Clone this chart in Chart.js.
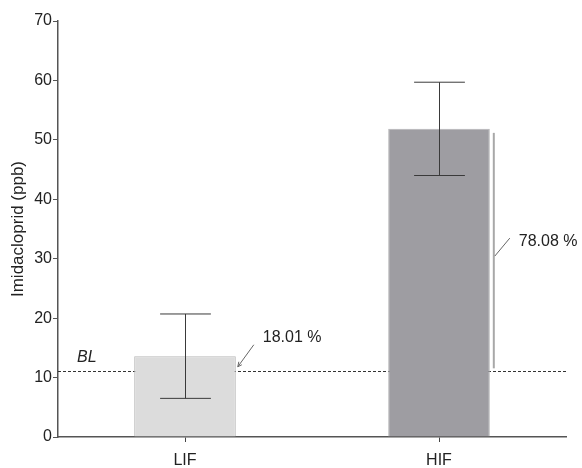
<!DOCTYPE html>
<html>
<head>
<meta charset="utf-8">
<script src="https://cdn.jsdelivr.net/npm/chart.js@4.4.0/dist/chart.umd.min.js"></script>
<style>
    body { margin: 0; background: #fff; }
    #wrap { width: 582px; height: 468px; }
</style>
</head>
<body>
<div id="wrap"><canvas id="c" width="582" height="468"></canvas></div>
<script>
// 数据
const groups = ['LIF', 'HIF'];
const means = [13.6, 51.85];
const errors = [7.1, 7.85];
const percentLabels = ['18.01 %', '78.08 %'];
const baseline = 11.05;
const yTicks = [0, 10, 20, 30, 40, 50, 60, 70];

const FONT = "'Liberation Sans', Arial, sans-serif";

// 误差线、基线和百分比标注
const extras = {
    id: 'extras',
    beforeDatasetsDraw(chart) {
        const { ctx, chartArea, scales: { y } } = chart;
        const yb = y.getPixelForValue(baseline);
        ctx.save();
        ctx.strokeStyle = '#333';
        ctx.lineWidth = 1;
        ctx.setLineDash([3, 2]);
        ctx.beginPath();
        ctx.moveTo(chartArea.left, Math.round(yb) + 0.5);
        ctx.lineTo(chartArea.right, Math.round(yb) + 0.5);
        ctx.stroke();
        ctx.setLineDash([]);
        ctx.fillStyle = '#222';
        ctx.font = "italic 16px " + FONT;
        ctx.textBaseline = 'middle';
        ctx.fillText('BL', chartArea.left + 19, yb - 14);
        ctx.restore();
    },
    afterDatasetsDraw(chart) {
        const { ctx, scales: { y } } = chart;
        const bars = chart.getDatasetMeta(0).data;
        const yb = y.getPixelForValue(baseline);
        ctx.save();
        // 误差线
        ctx.strokeStyle = '#3a3a3a';
        ctx.lineWidth = 1;
        bars.forEach((bar, i) => {
            const x = Math.round(bar.x) + 0.5;
            const yHi = y.getPixelForValue(means[i] + errors[i]);
            const yLo = y.getPixelForValue(means[i] - errors[i]);
            const cap = bar.width / 4;
            ctx.beginPath();
            ctx.moveTo(x, yHi); ctx.lineTo(x, yLo);
            ctx.moveTo(x - cap, yHi); ctx.lineTo(x + cap, yHi);
            ctx.moveTo(x - cap, yLo); ctx.lineTo(x + cap, yLo);
            ctx.stroke();
        });
        // 百分比标注
        ctx.font = "16px " + FONT;
        ctx.fillStyle = '#222';
        ctx.textBaseline = 'middle';
        bars.forEach((bar, i) => {
            const xr = bar.x + bar.width / 2;
            const yt = y.getPixelForValue(means[i]);
            if (i === 1) {
                const xl = xr + 4;
                ctx.strokeStyle = '#a8a8a8';
                ctx.lineWidth = 2;
                ctx.beginPath();
                ctx.moveTo(xl, yt + 4); ctx.lineTo(xl, yb - 3);
                ctx.stroke();
                const mid = (yt + yb) / 2;
                ctx.strokeStyle = '#666';
                ctx.lineWidth = 1;
                ctx.beginPath();
                ctx.moveTo(xl + 1, mid + 6); ctx.lineTo(xl + 16, mid - 12);
                ctx.stroke();
                ctx.fillText(percentLabels[i], xl + 25, mid - 9);
            } else {
                const mid = (yt + yb) / 2 + 3;
                ctx.strokeStyle = '#666';
                ctx.lineWidth = 1;
                ctx.beginPath();
                ctx.moveTo(xr + 2, mid); ctx.lineTo(xr + 18, mid - 22);
                ctx.moveTo(xr + 2, mid); ctx.lineTo(xr + 3, mid - 5);
                ctx.moveTo(xr + 2, mid); ctx.lineTo(xr + 6, mid - 2);
                ctx.stroke();
                ctx.fillText(percentLabels[i], xr + 27, mid - 29);
            }
        });
        ctx.restore();
    }
};

new Chart(document.getElementById('c'), {
    type: 'bar',
    data: {
        labels: groups,
        datasets: [{
            data: means,
            backgroundColor: ['#dcdcdc', '#9e9da2'],
            borderColor: ['#b8b8b8', '#b4b4b6'],
            borderWidth: 1,
            borderSkipped: 'bottom',
            barPercentage: 0.4,
            categoryPercentage: 1.0
        }]
    },
    options: {
        responsive: false,
        animation: false,
        layout: { padding: { top: 21, right: 16, left: 0, bottom: 0 } },
        plugins: { legend: { display: false }, tooltip: { enabled: false } },
        scales: {
            x: {
                offset: true,
                grid: { offset: false, drawOnChartArea: false, tickLength: 5, color: '#444' },
                border: { color: '#555', width: 1.5 },
                ticks: { color: '#222', padding: 9, font: { family: FONT, size: 16 } },
                afterFit(scale) { scale.height = 31; }
            },
            y: {
                min: 0,
                max: 70,
                afterBuildTicks(scale) { scale.ticks = yTicks.map(v => ({ value: v })); },
                grid: { drawOnChartArea: false, tickLength: 5, color: '#555' },
                border: { color: '#555', width: 1.5 },
                ticks: { color: '#222', padding: 1, font: { family: FONT, size: 16 } },
                title: {
                    display: true,
                    text: 'Imidacloprid (ppb)',
                    color: '#222',
                    padding: { top: 8, bottom: 0 },
                    font: { family: FONT, size: 17 }
                },
                afterFit(scale) { scale.width = 58; }
            }
        }
    },
    plugins: [extras]
});
</script>
</body>
</html>
